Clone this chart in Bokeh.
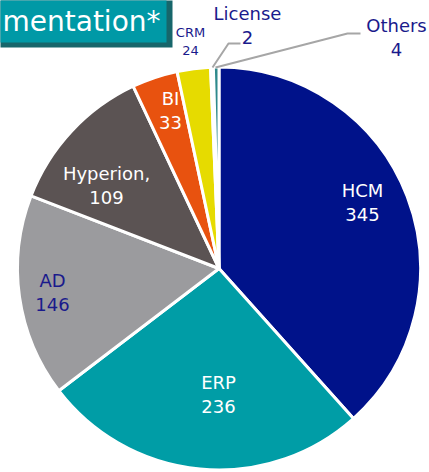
import math
from bokeh.plotting import figure
from bokeh.models import ColumnDataSource, Range1d
from bokeh.core.properties import value
from bokeh.embed import file_html
from bokeh.resources import INLINE

# ---- data ----
categories = ["HCM", "ERP", "AD", "Hyperion", "BI", "CRM", "License", "Others"]
counts = [345, 236, 146, 109, 33, 24, 2, 4]
label_texts = ["HCM\n345", "ERP\n236", "AD\n146", "Hyperion,\n109", "BI\n33", "CRM\n24", "License\n2", "Others\n4"]
colors = ["#00128A", "#009DA6", "#9B9B9E", "#5B5353", "#E8520F", "#E6DB00", "#CFE6E8", "#2E8A8C"]
title_text = "mentation*"

# ---- layout (pixel-like coordinates, y down negated) ----
W, H = 429, 472
CX, CY, R = 218.5, -268, 201.5

total = float(sum(counts))
starts, ends = [], []
cum = 0.0
for c in counts:
    a0 = math.pi / 2 - 2 * math.pi * cum / total
    cum += c
    a1 = math.pi / 2 - 2 * math.pi * cum / total
    starts.append(a1)
    ends.append(a0)

src = ColumnDataSource(dict(cat=categories, val=counts, start=starts, end=ends, color=colors))

p = figure(width=W, height=H, output_backend="svg", toolbar_location=None,
           x_axis_type=None, y_axis_type=None,
           x_range=Range1d(0, W), y_range=Range1d(-H, 0),
           min_border=0, outline_line_color=None)
p.grid.visible = False
p.background_fill_color = "white"
p.border_fill_color = "white"

# title box
p.quad(left=[-20], right=[172], top=[20], bottom=[-47], fill_color="#17666B", line_color=None)
p.quad(left=[-20], right=[166], top=[20], bottom=[-42], fill_color="#0099A6", line_color=None)
p.text(x=[2], y=[-21], text=[title_text], text_align="left", text_baseline="middle",
       text_color="white", text_font=value("DejaVu Sans"), text_font_size="28px")

# pie
p.wedge(x=CX, y=CY, radius=R, start_angle="start", end_angle="end",
        fill_color="color", line_color="white", line_width=3, source=src)

# leader lines
p.line(x=[212, 228, 240], y=[-67, -43, -43], line_color="#A6A6A6", line_width=2)
p.line(x=[215, 347, 360], y=[-67, -33, -33], line_color="#A6A6A6", line_width=2)

# labels
lab_x = [362, 218, 52, 106, 170, 190, 247, 396]
lab_y = [-202, -394, -292, -185, -110, -41, -25, -37]
lab_col = ["white", "white", "#1A1A8C", "white", "white", "#1A1A8C", "#1A1A8C", "#1A1A8C"]
lab_size = ["18px", "18px", "18px", "18px", "18px", "13px", "18px", "18px"]
lsrc = ColumnDataSource(dict(x=lab_x, y=lab_y, t=label_texts, c=lab_col, s=lab_size))
p.text(x="x", y="y", text="t", text_color="c", text_font_size="s", source=lsrc,
       text_align="center", text_baseline="middle", text_font=value("DejaVu Sans"),
       text_line_height=1.15)

open("out.html", "w").write(file_html(p, INLINE))
